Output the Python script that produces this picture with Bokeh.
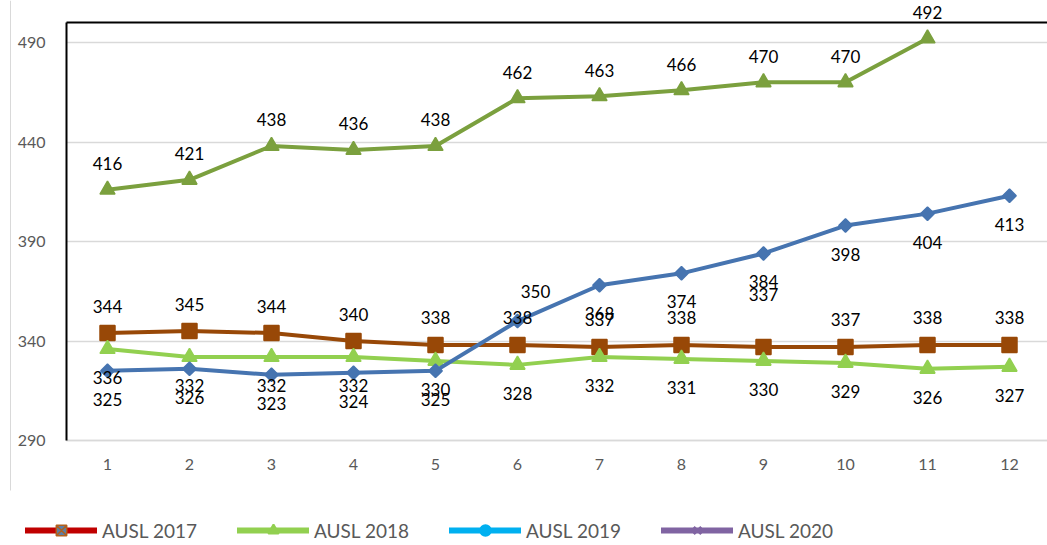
import math
from bokeh.plotting import figure
from bokeh.models import (ColumnDataSource, FixedTicker, Range1d, Legend, LegendItem,
                          Grid, BoxAnnotation)
from bokeh.embed import file_html
from bokeh.resources import INLINE
from bokeh.core.properties import value

# ---- data ----
months = [1, 2, 3, 4, 5, 6, 7, 8, 9, 10, 11, 12]
series_names = ["AUSL 2017", "AUSL 2018", "AUSL 2019", "AUSL 2020"]
ausl_2017 = [344, 345, 344, 340, 338, 338, 337, 338, 337, 337, 338, 338]
ausl_2018 = [336, 332, 332, 332, 330, 328, 332, 331, 330, 329, 326, 327]
ausl_2019 = [325, 326, 323, 324, 325, 350, 368, 374, 384, 398, 404, 413]
ausl_2020 = [416, 421, 438, 436, 438, 462, 463, 466, 470, 470, 492]
y_ticks = [290, 340, 390, 440, 490]
x_ticks = months
y_min, y_max = 290, 500

# ---- layout / styles ----
W, H = 1047, 545
AX_LEFT_PX, AX_BOTTOM_PX = 66, 440          # axis positions in the page
PX_X, PX_Y = 82.0, 1.99                      # pixels per data unit
x0 = 0.5 - AX_LEFT_PX / PX_X
x1 = 0.5 + (W - AX_LEFT_PX) / PX_X
y0 = y_min - (H - AX_BOTTOM_PX) / PX_Y
y1 = y_min + AX_BOTTOM_PX / PX_Y

FONT = "Lato"
line_colors = ["#984807", "#92D050", "#4674B0", "#7BA03E"]
markers = ["square", "triangle", "square", "triangle"]
marker_sizes = [15, 15, 9.5, 15]
marker_angles = [0, 0, math.pi / 4, 0]
label_up = [
    [27] * 8 + [52] + [27] * 3,
    [-28.5] * 12,
    [-29] * 5 + [30] + [-28.5] * 6,
    [26] * 11,
]
label_dx = [
    [0] * 12,
    [0] * 12,
    [0] * 5 + [18] + [0] * 6,
    [0] * 11,
]
legend_line_colors = ["#C00000", "#92D050", "#00B0F0", "#8064A2"]

p = figure(width=W, height=H, output_backend="svg", toolbar_location=None,
           x_range=Range1d(x0, x1), y_range=Range1d(y0, y1),
           min_border_left=0, min_border_right=0, min_border_top=0, min_border_bottom=0,
           background_fill_color="white", border_fill_color="white")
p.outline_line_color = None

# axes (drawn inside the frame at fixed positions)
p.yaxis.ticker = FixedTicker(ticks=y_ticks)
p.xaxis.ticker = FixedTicker(ticks=x_ticks)
for ax in (p.xaxis[0], p.yaxis[0]):
    ax.major_tick_line_color = None
    ax.minor_tick_line_color = None
    ax.major_label_text_font = FONT
    ax.major_label_text_font_size = "16px"
    ax.major_label_text_color = "#595959"
p.yaxis.fixed_location = 0.5
p.yaxis.axis_line_color = "black"
p.yaxis.axis_line_width = 2
p.yaxis.bounds = (y_min, y_max)
p.yaxis.major_label_standoff = 15
p.xaxis.fixed_location = y_min
p.xaxis.axis_line_color = "#D9D9D9"
p.xaxis.axis_line_width = 1.5
p.xaxis.bounds = (0.5, x1)
p.xaxis.major_label_standoff = 12

p.xgrid.grid_line_color = None
p.ygrid.grid_line_color = "#D9D9D9"
p.ygrid.grid_line_width = 1.5
p.ygrid.cross_bounds = (0.5, x1)

top_line = Grid(dimension=1, ticker=FixedTicker(ticks=[y_max]), grid_line_color="black",
                grid_line_width=2, cross_bounds=(0.5, x1))
p.add_layout(top_line)

# faint frame line of the chart area at the far left
p.add_layout(BoxAnnotation(left=x0 + 9.5 / PX_X, right=x0 + 10.5 / PX_X,
                           bottom=y_min - 50 / PX_Y, fill_color="#D9D9D9", fill_alpha=1,
                           line_color=None, level="underlay"))

# series
all_series = [ausl_2017, ausl_2018, ausl_2019, ausl_2020]
sources = []
for i, vals in enumerate(all_series):
    xs = months[:len(vals)]
    src = ColumnDataSource(dict(
        x=xs, y=vals, txt=[str(v) for v in vals],
        dx=label_dx[i], dy=[-u for u in label_up[i]],
    ))
    sources.append(src)
    p.line("x", "y", source=src, line_color=line_colors[i], line_width=4, line_join="round")
    p.scatter("x", "y", source=src, marker=markers[i], size=marker_sizes[i],
              angle=marker_angles[i], fill_color=line_colors[i], line_color=line_colors[i],
              line_width=1.5)
for src in sources:
    p.text("x", "y", text="txt", source=src, x_offset="dx", y_offset="dy",
           text_font=value(FONT), text_font_size="17px", text_color="black",
           text_align="center", text_baseline="middle")

# legend (as shown in the reference); renderers hold no visible point
nan = float("nan")
leg_markers = ["square_x", "triangle", "circle", "x"]
leg_fill = ["#5B7FA8", "#92D050", "#00B0F0", "#8064A2"]
leg_mline = ["#B0601E", "#92D050", "#00B0F0", "#8064A2"]
leg_msize = [13, 10, 9, 10]
leg_mwidth = [1.5, 2, 2, 2.5]
items = []
for i, name in enumerate(series_names):
    lsrc = ColumnDataSource(dict(x=[nan], y=[nan]))
    lr = p.line("x", "y", source=lsrc, line_color=legend_line_colors[i], line_width=6,
                line_cap="round")
    mr = p.scatter("x", "y", source=lsrc, marker=leg_markers[i], size=leg_msize[i],
                   fill_color=leg_fill[i], line_color=leg_mline[i], line_width=leg_mwidth[i])
    items.append(LegendItem(label=name, renderers=[lr, mr]))

legend = Legend(items=items, orientation="horizontal", location=(25, 2),
                glyph_width=72, glyph_height=26, label_height=18, label_width=100,
                label_standoff=5, spacing=35, padding=0, margin=0,
                border_line_color=None, background_fill_alpha=0,
                label_text_font=FONT, label_text_font_size="19px", label_text_color="#595959")
p.add_layout(legend)

open("out.html", "w").write(file_html(p, INLINE))
